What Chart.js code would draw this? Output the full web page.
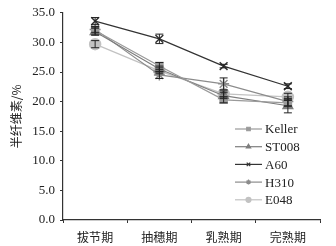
<!DOCTYPE html>
<html>
<head>
<meta charset="utf-8">
<script src="https://cdn.jsdelivr.net/npm/chart.js@4/dist/chart.umd.min.js"></script>
<style>
  html, body { margin: 0; padding: 0; background: #fff; }
  #wrap { width: 336px; height: 246px; position: relative; }
</style>
</head>
<body>
<div id="wrap"><canvas id="chart" width="336" height="246"></canvas></div>
<script>
// stages and series values (hemicellulose %)
const stages = ['拔节期', '抽穗期', '乳熟期', '完熟期'];
const keller = [32.0, 26.0, 20.3, 19.8];
const st008 = [31.8, 25.5, 21.0, 19.3];
const a60 = [33.6, 30.6, 26.0, 22.6];
const h310 = [32.2, 24.5, 23.0, 20.0];
const e048 = [29.7, 25.2, 21.3, 20.8];

// error bar half-widths
const kellerErr = [0.6, 0.6, 0.5, 0.5];
const st008Err = [0.6, 0.5, 0.5, 1.2];
const a60Err = [0.6, 0.8, 0.3, 0.4];
const h310Err = [0.5, 0.6, 1.0, 0.8];
const e048Err = [0.6, 0.5, 0.5, 0.6];

const yTicks = [0, 5, 10, 15, 20, 25, 30, 35];

const serif = "'Liberation Serif', 'DejaVu Serif', serif";
const cjk = "'Noto Sans CJK SC', sans-serif";

function series(label, data, errors, color, style, radius) {
  return {
    label: label,
    data: data,
    errors: errors,
    borderColor: color,
    backgroundColor: color,
    pointBackgroundColor: color,
    pointBorderColor: color,
    pointStyle: style,
    pointRadius: radius,
    pointBorderWidth: 1.5,
    borderWidth: 1.2,
    tension: 0,
    fill: false
  };
}

// draw vertical error bars with caps
const errorBars = {
  id: 'errorBars',
  afterDatasetsDraw(chart) {
    const ctx = chart.ctx;
    const y = chart.scales.y;
    chart.data.datasets.forEach((ds, i) => {
      const meta = chart.getDatasetMeta(i);
      ctx.save();
      ctx.strokeStyle = '#222';
      ctx.lineWidth = 1;
      meta.data.forEach((pt, j) => {
        const e = ds.errors[j];
        const top = y.getPixelForValue(ds.data[j] + e);
        const bot = y.getPixelForValue(ds.data[j] - e);
        ctx.beginPath();
        ctx.moveTo(pt.x, top); ctx.lineTo(pt.x, bot);
        ctx.moveTo(pt.x - 4, top); ctx.lineTo(pt.x + 4, top);
        ctx.moveTo(pt.x - 4, bot); ctx.lineTo(pt.x + 4, bot);
        ctx.stroke();
      });
      ctx.restore();
    });
  }
};

// legend drawn inside the plot area, lower right
const innerLegend = {
  id: 'innerLegend',
  afterDraw(chart) {
    const ctx = chart.ctx;
    const x0 = 235, x1 = 262, yStart = 129, step = 17.7;
    ctx.save();
    chart.data.datasets.forEach((ds, i) => {
      const yy = yStart + i * step;
      ctx.strokeStyle = ds.borderColor;
      ctx.fillStyle = ds.pointBackgroundColor;
      ctx.lineWidth = 1.2;
      ctx.beginPath();
      ctx.moveTo(x0, yy); ctx.lineTo(x1, yy);
      ctx.stroke();
      Chart.helpers.drawPoint(ctx, {
        pointStyle: ds.pointStyle,
        radius: 2.5,
        borderWidth: 1,
        rotation: 0
      }, (x0 + x1) / 2, yy);
      ctx.fillStyle = '#222';
      ctx.font = '13px ' + serif;
      ctx.textBaseline = 'middle';
      ctx.textAlign = 'left';
      ctx.fillText(ds.label, x1 + 3, yy + 1);
    });
    ctx.restore();
  }
};

new Chart(document.getElementById('chart'), {
  type: 'line',
  data: {
    labels: stages,
    datasets: [
      series('Keller', keller, kellerErr, '#9a9a9a', 'rect', 5),
      series('ST008', st008, st008Err, '#7e7e7e', 'triangle', 5.5),
      series('A60', a60, a60Err, '#333333', 'crossRot', 5.5),
      series('H310', h310, h310Err, '#8c8c8c', 'star', 5.5),
      series('E048', e048, e048Err, '#c2c2c2', 'circle', 5.5)
    ]
  },
  options: {
    responsive: false,
    animation: false,
    devicePixelRatio: 1,
    layout: { padding: { top: 11, right: 16, left: 9, bottom: 0 } },
    plugins: {
      legend: { display: false },
      tooltip: { enabled: false }
    },
    scales: {
      x: {
        offset: true,
        grid: { display: true, drawOnChartArea: false, offset: true, color: '#333', tickLength: 3 },
        border: { color: '#333', width: 1.2 },
        ticks: { color: '#222', font: { family: cjk, size: 12 }, padding: 7 },
        afterFit(scale) { scale.height = 26; }
      },
      y: {
        min: 0,
        max: 35,
        afterBuildTicks(scale) { scale.ticks = yTicks.map(v => ({ value: v })); },
        grid: { display: true, drawOnChartArea: false, color: '#333', tickLength: 3 },
        border: { color: '#333', width: 1.2 },
        ticks: {
          color: '#222',
          font: { family: serif, size: 13 },
          padding: 5,
          autoSkip: false,
          callback: v => v.toFixed(1)
        },
        title: {
          display: true,
          text: '半纤维素/%',
          color: '#222',
          font: { family: cjk, size: 12 },
          padding: { top: 0, bottom: 4 }
        },
        afterFit(scale) { scale.width = 54; }
      }
    }
  },
  plugins: [errorBars, innerLegend]
});
</script>
</body>
</html>
